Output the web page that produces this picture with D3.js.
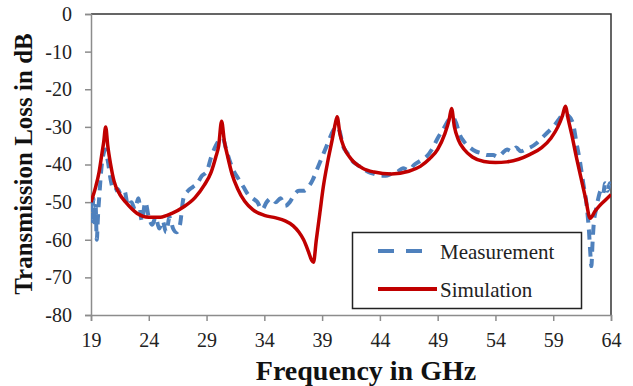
<!DOCTYPE html>
<html>
<head>
<meta charset="utf-8">
<script src="https://cdn.jsdelivr.net/npm/d3@7"></script>
<style>
  body { margin: 0; background: #fff; }
  svg { display: block; }
</style>
</head>
<body>
<div id="vis"></div>
<script>
const xTicks = [19, 24, 29, 34, 39, 44, 49, 54, 59, 64];
const yTicks = [0, -10, -20, -30, -40, -50, -60, -70, -80];

// measurement (dashed blue)
const measFreq = [19.0, 19.1, 19.2, 19.3, 19.4, 19.5, 19.6, 19.75, 19.9, 20.1, 20.25, 20.45, 20.7, 21.0,
  21.3, 21.6, 21.9, 22.2, 22.5, 22.8, 23.1, 23.4, 23.7, 24.0, 24.3, 24.6, 24.9, 25.2, 25.5, 25.8, 26.1,
  26.4, 26.7, 27.0, 27.4, 27.8, 28.2, 28.6, 29.0, 29.4, 29.8, 30.1, 30.4, 30.7, 31.0, 31.4, 31.8, 32.2,
  32.6, 33.0, 33.4, 33.8, 34.2, 34.6, 35.0, 35.4, 35.8, 36.2, 36.6, 37.0, 37.4, 37.8, 38.2, 38.6, 39.0,
  39.4, 39.8, 40.2, 40.5, 40.8, 41.2, 41.6, 42.0, 42.5, 43.0, 43.5, 44.0, 44.5, 45.0, 45.5, 46.0, 46.5,
  47.0, 47.5, 48.0, 48.5, 49.0, 49.5, 50.0, 50.3, 50.6, 50.9, 51.3, 51.8, 52.3, 52.8, 53.3, 53.8, 54.2,
  54.6, 55.0, 55.4, 55.8, 56.2, 56.6, 57.0, 57.5, 58.0, 58.5, 59.0, 59.5, 59.9, 60.3, 60.7, 61.0, 61.3,
  61.6, 61.9, 62.1, 62.2, 62.3, 62.4, 62.5, 62.7, 62.9, 63.1, 63.3, 63.5, 63.7, 63.9, 64.0];
const measured = [-50, -55, -49, -56, -51, -60, -54, -47, -41, -37, -36, -39, -44, -47,
  -46.5, -48, -47, -51, -50, -52, -49, -55, -50, -54, -56, -54, -57, -55, -58, -54, -57,
  -58, -56, -49, -47, -46, -45, -43, -42, -38, -35, -33.5, -33, -36, -39, -42, -44, -46,
  -48, -49, -50, -52, -50, -49, -50, -49, -51, -50, -48, -47, -47, -46, -44, -41, -38,
  -35, -32, -30, -31, -35, -37, -39, -40, -41, -42, -42.5, -43, -43, -42.5, -42, -41, -41.5,
  -40, -39, -38, -36, -33, -30.5, -28, -27.5, -29, -32, -34, -35.5, -36.5, -37, -37.5, -37.5, -38,
  -37, -36, -36.5, -35.5, -36.5, -36, -35.5, -34.5, -33, -31.5, -30, -28, -26.5, -27, -29, -34, -39,
  -45, -51, -58, -63, -67, -61, -56, -52, -49, -47, -48, -45, -47, -45, -46];

// simulation (solid red)
const simFreq = [19.0, 19.4, 19.7, 19.95, 20.1, 20.27, 20.45, 20.7, 21.0, 21.5, 22.0, 23.0, 24.0, 25.0,
  26.0, 27.0, 28.0, 28.8, 29.4, 29.8, 30.05, 30.3, 30.55, 30.8, 31.2, 31.7, 32.3, 33.0, 34.0, 35.0,
  35.8, 36.5, 37.0, 37.4, 37.8, 38.1, 38.25, 38.5, 38.8, 39.1, 39.5, 39.9, 40.15, 40.3, 40.55, 40.9,
  41.5, 42.5, 43.5, 45.0, 46.5, 47.5, 48.3, 49.0, 49.6, 50.0, 50.2, 50.45, 50.8, 51.3, 52.0, 53.0,
  54.0, 55.0, 56.0, 57.0, 58.0, 58.8, 59.4, 59.8, 60.05, 60.3, 60.6, 61.0, 61.4, 61.8, 62.2, 62.6,
  63.0, 63.5, 64.0];
const simulated = [-50, -46, -42, -37, -34, -30, -35, -40, -44.5, -48, -50, -53, -54, -54,
  -53, -51.3, -48.8, -45.5, -42, -38, -35, -28.5, -34, -37.5, -42.5, -46.5, -49.8, -52, -53.5, -54.2,
  -55, -56.3, -58, -60, -63, -65.5, -66, -60, -53, -46, -39, -33, -29, -27.3, -32, -35.5,
  -38.5, -41, -42, -42.5, -41.8, -40.5, -38.5, -36, -32, -28, -25.1, -30, -33.5, -36, -38, -39.2,
  -39.5, -39.3, -38.6, -37.3, -35.5, -33, -30, -27, -24.5, -28, -32, -38, -43.5, -49, -54.3, -52.5,
  -51, -49.5, -48];

const W = 633, H = 386;
const margin = { top: 14, right: 22, bottom: 71, left: 91 };
const serif = '"Liberation Serif", "Times New Roman", serif';
const blue = '#4f81bd';
const red = '#c00000';

const svg = d3.select('#vis')
  .append('svg')
    .attr('width', W)
    .attr('height', H);

const x = d3.scaleLinear()
  .domain([19, 64])
  .range([margin.left, W - margin.right]);
const y = d3.scaleLinear()
  .domain([-80, 0])
  .range([H - margin.bottom, margin.top]);

// plot frame: dark top and right edges
svg.append('path')
  .attr('d', 'M' + x(19) + ',' + y(0) + 'H' + x(64) + 'V' + y(-80))
  .attr('fill', 'none')
  .attr('stroke', '#333')
  .attr('stroke-width', 1.5);

const xAxis = d3.axisBottom(x).tickValues(xTicks).tickSize(6).tickPadding(12);
const yAxis = d3.axisLeft(y).tickValues(yTicks).tickSize(6).tickPadding(13);

const gx = svg.append('g')
  .attr('transform', 'translate(0,' + y(-80) + ')')
  .call(xAxis);
const gy = svg.append('g')
  .attr('transform', 'translate(' + x(19) + ',0)')
  .call(yAxis);

[gx, gy].forEach(function (g) {
  g.attr('font-family', serif).attr('font-size', 20);
  g.select('.domain').attr('stroke', '#8c8c8c').attr('stroke-width', 1.5);
  g.selectAll('.tick line').attr('stroke', '#8c8c8c').attr('stroke-width', 1.5);
  g.selectAll('.tick text')
    .attr('font-family', serif)
    .attr('font-size', 20)
    .attr('fill', '#222')
    .text(function (d) { return String(d); });
});

svg.append('clipPath')
  .attr('id', 'plot')
  .append('rect')
    .attr('x', x(19))
    .attr('y', y(0))
    .attr('width', x(64) - x(19))
    .attr('height', y(-80) - y(0));

const line = d3.line()
  .x(function (d) { return x(d[0]); })
  .y(function (d) { return y(d[1]); })
  .curve(d3.curveMonotoneX);

svg.append('path')
  .datum(d3.zip(measFreq, measured))
  .attr('clip-path', 'url(#plot)')
  .attr('d', line)
  .attr('fill', 'none')
  .attr('stroke', blue)
  .attr('stroke-width', 4)
  .attr('stroke-dasharray', '10,7');

svg.append('path')
  .datum(d3.zip(simFreq, simulated))
  .attr('clip-path', 'url(#plot)')
  .attr('d', line)
  .attr('fill', 'none')
  .attr('stroke', red)
  .attr('stroke-width', 3.5)
  .attr('stroke-linejoin', 'round');

// legend
const legend = svg.append('g');
legend.append('rect')
  .attr('x', 352.5)
  .attr('y', 232.5)
  .attr('width', 229)
  .attr('height', 76)
  .attr('fill', '#fff')
  .attr('stroke', '#222')
  .attr('stroke-width', 1.5);

const items = [
  { label: 'Measurement', color: blue, dash: '16,12', y: 251 },
  { label: 'Simulation', color: red, dash: null, y: 289 }
];
items.forEach(function (it) {
  legend.append('line')
    .attr('x1', 378)
    .attr('x2', it.dash ? 423 : 437)
    .attr('y1', it.y)
    .attr('y2', it.y)
    .attr('stroke', it.color)
    .attr('stroke-width', 4)
    .attr('stroke-dasharray', it.dash);
  legend.append('text')
    .attr('x', 440)
    .attr('y', it.y + 7.5)
    .attr('font-family', serif)
    .attr('font-size', 21)
    .attr('fill', '#222')
    .text(it.label);
});

// axis titles
svg.append('text')
  .attr('x', 366)
  .attr('y', 380)
  .attr('text-anchor', 'middle')
  .attr('font-family', serif)
  .attr('font-weight', 'bold')
  .attr('font-size', 28)
  .attr('fill', '#111')
  .text('Frequency in GHz');

svg.append('text')
  .attr('transform', 'translate(32,164) rotate(-90)')
  .attr('text-anchor', 'middle')
  .attr('font-family', serif)
  .attr('font-weight', 'bold')
  .attr('font-size', 25)
  .attr('fill', '#111')
  .text('Transmission Loss in dB');
</script>
</body>
</html>
